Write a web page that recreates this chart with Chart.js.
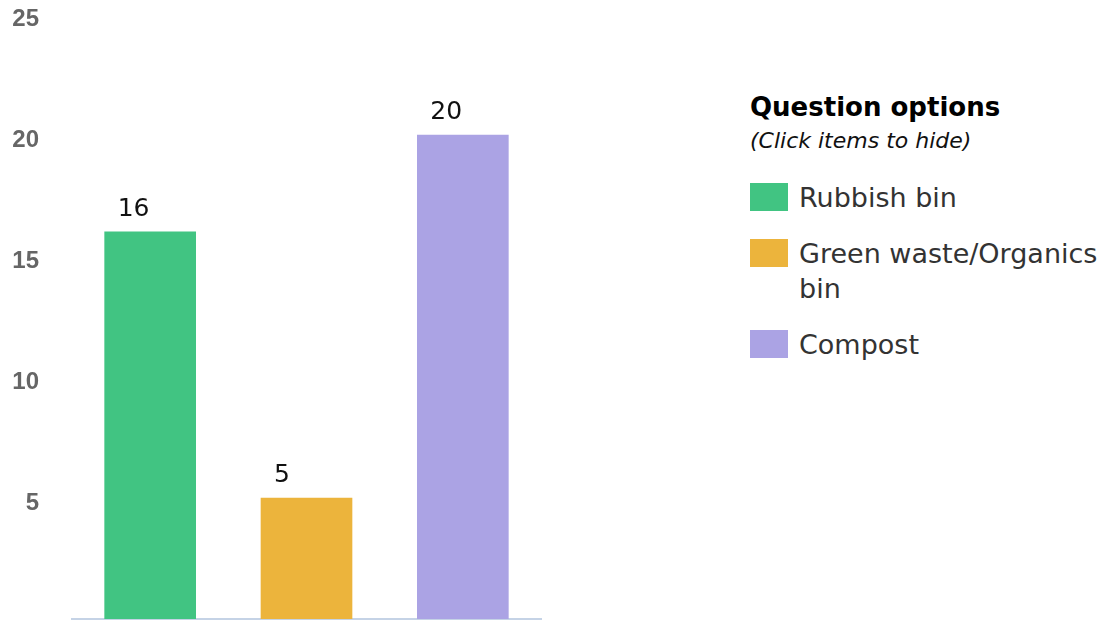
<!DOCTYPE html>
<html>
<head>
<meta charset="utf-8">
<script src="https://cdn.jsdelivr.net/npm/chart.js@4.4.1/dist/chart.umd.min.js"></script>
<style>
  body { margin: 0; background: #fff; }
  #wrap { position: relative; width: 1113px; height: 621px; overflow: hidden; }
  #barChart { position: absolute; left: 0; top: 0; }
  #legend { position: absolute; left: 750px; top: 89px; width: 360px; font-family: "DejaVu Sans", sans-serif; }
  #legend .title { font-weight: bold; font-size: 26px; color: #000; line-height: 36px; }
  #legend .sub { font-style: italic; font-size: 22px; color: #111; line-height: 32px; margin-bottom: 23px; }
  #legend .item { display: flex; align-items: flex-start; cursor: pointer; margin-bottom: 21px; }
  #legend .box { width: 38px; height: 28px; flex: none; margin-right: 11px; margin-top: 3px; }
  #legend .txt { font-size: 27px; color: #333; line-height: 35px; }
  #legend .item.off .txt { text-decoration: line-through; color: #aaa; }
</style>
</head>
<body>
<div id="wrap">
  <canvas id="barChart" width="545" height="621"></canvas>
  <div id="legend"></div>
</div>
<script>
const categories = ["Rubbish bin", "Green waste/Organics bin", "Compost"];
const counts = [16, 5, 20];
const barColors = ["#41c482", "#ecb43c", "#aba3e4"];
const yTicks = [0, 5, 10, 15, 20, 25];

// value labels drawn above each bar, shifted to the left side of it
const barValueLabels = {
  id: "barValueLabels",
  afterDatasetsDraw(chart) {
    const ctx = chart.ctx;
    const meta = chart.getDatasetMeta(0);
    ctx.save();
    ctx.font = '25px "DejaVu Sans"';
    ctx.fillStyle = "#111";
    ctx.textAlign = "left";
    ctx.textBaseline = "alphabetic";
    meta.data.forEach((bar, i) => {
      if (!chart.getDataVisibility(i)) return;
      ctx.fillText(String(counts[i]), bar.x - bar.width / 2 + 13, bar.y - 16);
    });
    ctx.restore();
  }
};

const ctx = document.getElementById("barChart").getContext("2d");
const barChart = new Chart(ctx, {
  type: "bar",
  data: {
    labels: categories,
    datasets: [
      {
        data: counts,
        backgroundColor: barColors,
        borderWidth: 0,
        barThickness: 91
      }
    ]
  },
  options: {
    responsive: false,
    animation: false,
    layout: { padding: { top: 14, right: 4, bottom: 2, left: 0 } },
    plugins: {
      legend: { display: false },
      tooltip: { enabled: true }
    },
    scales: {
      x: {
        grid: { display: false },
        ticks: { display: false },
        border: { display: true, color: "#c5d3e6", width: 2 },
        afterFit(scale) { scale.height = 0; }
      },
      y: {
        min: yTicks[0],
        max: yTicks[yTicks.length - 1],
        afterBuildTicks(scale) {
          scale.ticks = yTicks.map(v => ({ value: v }));
        },
        grid: { display: false, drawTicks: false },
        border: { display: false },
        ticks: {
          padding: 33,
          labelOffset: 5,
          color: "#666",
          font: { family: "Liberation Sans", weight: "bold", size: 24 },
          callback: v => (v === 0 ? "" : v)
        },
        afterFit(scale) {
          scale.width = 72;
          // tick padding should only push labels sideways, not shrink the plot
          scale.paddingTop = 0;
          scale.paddingBottom = 0;
        }
      }
    }
  },
  plugins: [barValueLabels]
});

// html legend
const legendEl = document.getElementById("legend");
legendEl.innerHTML =
  '<div class="title">Question options</div><div class="sub">(Click items to hide)</div>';
categories.forEach((name, i) => {
  const item = document.createElement("div");
  item.className = "item";
  item.innerHTML = '<span class="box" style="background:' + barColors[i] + '"></span><span class="txt">' + name + "</span>";
  item.addEventListener("click", () => {
    barChart.toggleDataVisibility(i);
    item.classList.toggle("off", !barChart.getDataVisibility(i));
    barChart.update();
  });
  legendEl.appendChild(item);
});
</script>
</body>
</html>
